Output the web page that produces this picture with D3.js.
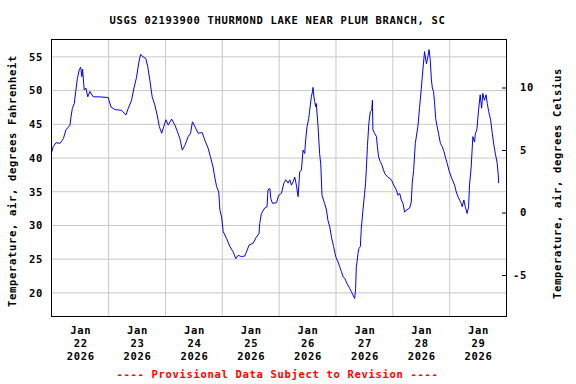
<!DOCTYPE html>
<html>
<head>
<meta charset="utf-8">
<script src="https://cdn.jsdelivr.net/npm/d3@7"></script>
<style>
  html, body { margin: 0; padding: 0; background: #fff; }
  svg text { font-family: "DejaVu Sans Mono", monospace; font-weight: bold; font-size: 10.5px; letter-spacing: 0.68px; }
</style>
</head>
<body>
<div id="chart"></div>
<script>
// hours since 2026-01-22 00:00
const hoursSinceStart = [0,0.8,2,3.7,5.1,6.2,7.9,8.3,8.9,9.7,10.3,11,11.8,12.4,12.9,13.2,13.9,14.6,15.4,16.3,17.7,19.8,24,25.2,26.9,29.7,31.5,32.5,33.9,34.9,36,36.9,37.7,38.8,39.9,40.7,41.6,42.6,43.7,44.7,45.6,46.6,47.5,48.4,49.4,50.8,52.2,53.3,54.3,55.3,56.4,57.8,58.8,59.6,60.6,62,63.7,64.8,66.2,67.2,68.3,69,69.8,70.7,71.2,71.9,72.6,74,75.4,76.8,77.9,78.9,80.3,81.7,82.4,83.5,85.2,86.6,87.7,88,88.7,90.1,91.1,91.5,92.3,92.7,93.4,95.1,96,97.2,98.2,99,100,100.7,101.4,102.1,102.8,103.5,104.2,104.9,105.6,106.3,107,107.4,108,108.7,109.1,109.8,110.3,110.5,110.9,111.2,111.7,111.9,112.6,113.3,113.8,114.3,115.4,116.2,116.8,117.6,118.3,119.2,120.1,121.1,121.8,122.5,123.2,123.9,124.9,126,126.7,127.4,128.1,128.5,128.8,129.2,129.5,129.9,130.5,130.9,131.6,132.3,132.7,133,133.5,134.1,134.7,135.3,135.6,135.8,136.5,137.3,137.7,138.2,138.9,139.6,140.8,142.1,143.6,144.6,145.7,146.4,147.1,147.8,148.5,149.2,149.9,151.3,152,152.4,153,153.7,154.8,155.5,156.2,156.9,157.6,158.4,159,159.5,160,160.5,160.9,161.4,161.8,162.3,162.8,163.5,164.3,165.1,165.8,166.5,167.2,167.9,168.9,170.3,171,171.7,172.4,173.1,173.5,174.2,174.8,175.6,176.2,176.6,177.3,178,178.7,179.1,179.7,180.4,181.1,181.7,182.2,182.9,183.6,184.1,184.7,185.5,186.2,186.9,187.6,188.3,188.8,188.9];

const tempF = [40.6,41.6,42.2,42.1,42.8,44.1,44.8,46.0,47.3,48.0,49.8,51.7,53.0,53.4,52.0,53.1,50.0,50.3,49.0,49.8,49.0,49.0,48.9,47.5,47.1,47.0,46.3,47.3,48.5,50.3,51.9,54.0,55.3,54.9,54.7,53.5,51.5,49.0,47.8,46.3,44.6,43.6,44.6,45.6,44.8,45.7,44.8,43.8,42.8,41.1,41.8,43.1,43.6,45.3,44.6,43.6,43.7,42.6,41.4,40.1,38.6,37.1,35.7,34.9,32.2,31.2,29.0,28.0,26.8,26.0,25.0,25.5,25.3,25.4,26.0,27.0,27.3,28.2,28.7,30.2,31.7,32.5,32.7,35.2,35.4,33.9,33.2,33.3,34.4,34.7,36.2,36.7,36.2,36.7,35.9,36.4,37.1,35.9,34.2,37.9,38.1,41.1,40.6,42.6,44.6,45.8,47.0,49.0,49.8,50.4,49.0,48.3,47.5,48.0,44.8,40.6,38.9,34.4,33.2,32.2,30.7,29.7,28.2,26.8,25.3,24.5,23.8,23.1,22.3,22.1,21.3,20.6,20.1,19.6,19.1,20.6,23.8,24.8,25.8,26.5,26.8,29.5,32.2,34.7,36.2,38.1,41.8,45.1,46.8,47.0,48.5,44.1,43.6,43.1,41.6,40.1,39.4,38.9,37.6,37.1,36.7,35.9,35.2,34.4,34.7,33.7,33.2,31.9,32.2,32.5,33.4,36.2,38.1,42.1,44.6,47.4,50.1,53.0,55.7,53.9,54.9,56.0,54.5,51.5,50.3,49.8,48.3,45.8,44.8,43.6,42.1,41.6,40.9,39.9,39.1,38.1,37.1,35.9,34.9,34.2,33.7,33.2,32.7,33.7,32.7,31.7,32.7,35.9,38.6,43.1,42.3,43.6,44.1,47.0,49.3,47.3,49.5,48.5,49.3,48.0,46.8,45.6,43.6,41.8,40.4,39.1,37.1,36.2];

const fTicks = [20, 25, 30, 35, 40, 45, 50, 55];
const cTicks = [-5, 0, 5, 10];
const dayLabels = ["22", "23", "24", "25", "26", "27", "28", "29"];

const titleText = "USGS 02193900 THURMOND LAKE NEAR PLUM BRANCH, SC";
const leftLabel = "Temperature, air, degrees Fahrenheit";
const rightLabel = "Temperature, air, degrees Celsius";
const footText = "---- Provisional Data Subject to Revision ----";

const W = 576, H = 384;
const plot = { left: 51, right: 506, top: 39, bottom: 316 };

const start = new Date(2026, 0, 22);
const end = new Date(2026, 0, 30);
const data = hoursSinceStart.map((h, i) => ({ t: new Date(+start + h * 3600e3), v: tempF[i] }));

const svg = d3.select("#chart").append("svg")
  .attr("width", W).attr("height", H);

const x = d3.scaleTime().domain([start, end]).range([plot.left + 0.3, plot.right]);
const y = d3.scaleLinear().domain([16.5, 57.5]).range([plot.bottom, plot.top + 0.5]);
const yC = d3.scaleLinear().domain([-8.28, 13.84]).range([plot.bottom, plot.top + 0.5]);

// grid
const midnights = d3.timeDay.range(d3.timeDay.offset(start, 1), end);
svg.append("g")
  .attr("transform", `translate(0,${plot.bottom})`)
  .call(d3.axisBottom(x).tickValues(midnights).tickSize(-(plot.bottom - plot.top)).tickFormat(""))
  .call(g => g.select(".domain").remove())
  .call(g => g.selectAll("line").attr("stroke", "#c8c8c8"));

svg.append("g")
  .attr("transform", `translate(${plot.left},0)`)
  .call(d3.axisLeft(y).tickValues(fTicks).tickSize(-(plot.right - plot.left)).tickFormat(""))
  .call(g => g.select(".domain").remove())
  .call(g => g.selectAll("line").attr("stroke", "#c8c8c8"));

// line
svg.append("path")
  .datum(data)
  .attr("fill", "none")
  .attr("stroke", "#0000ff")
  .attr("stroke-width", 1)
  .attr("d", d3.line().x(d => x(d.t)).y(d => y(d.v)));

// frame
svg.append("rect")
  .attr("x", plot.left + 0.5).attr("y", plot.top + 0.5)
  .attr("width", plot.right - plot.left).attr("height", plot.bottom - plot.top)
  .attr("fill", "none").attr("stroke", "#000");

// left tick labels
svg.append("g")
  .attr("transform", `translate(${plot.left},0)`)
  .call(d3.axisLeft(y).tickValues(fTicks).tickSize(0).tickPadding(8))
  .call(g => g.select(".domain").remove())
  .call(g => g.selectAll("text").attr("fill", "#000").attr("dy", "0.36em"))
  .attr("font-size", null).attr("font-family", null);

// right axis: inward ticks, labels left-aligned with hanging minus
svg.append("g")
  .attr("transform", `translate(${plot.right},0)`)
  .call(d3.axisLeft(yC).tickValues(cTicks).tickSize(4).tickFormat(""))
  .call(g => g.select(".domain").remove())
  .call(g => g.selectAll("line").attr("stroke", "#000"));

svg.append("g").selectAll("text")
  .data(cTicks)
  .join("text")
  .attr("x", d => d < 0 ? 513 : 520)
  .attr("y", d => yC(d))
  .attr("dy", "0.36em")
  .text(d => d < 0 ? "-" + Math.abs(d) : String(d));

// x labels
const noons = [start, ...midnights].map(d => d3.timeHour.offset(d, 12));
const xLab = svg.append("g")
  .attr("transform", `translate(0,${plot.bottom})`)
  .call(d3.axisBottom(x).tickValues(noons).tickSize(0).tickFormat(""))
  .attr("font-size", null).attr("font-family", null)
  .call(g => g.select(".domain").remove());

xLab.selectAll(".tick").each(function (d, i) {
  const t = d3.select(this).select("text")
    .attr("y", 0).attr("dy", null)
    .attr("fill", "#000");
  ["Jan", dayLabels[i], "2026"].forEach((s, k) => {
    t.append("tspan").attr("x", 0.5).attr("y", 18 + k * 12.8).text(s);
  });
});

// titles
svg.append("text")
  .attr("x", 277.5).attr("y", 24)
  .attr("text-anchor", "middle")
  .text(titleText);

svg.append("text")
  .attr("transform", "translate(16,181) rotate(-90)")
  .attr("text-anchor", "middle")
  .text(leftLabel);

svg.append("text")
  .attr("transform", "translate(561,183.5) rotate(-90)")
  .attr("text-anchor", "middle")
  .text(rightLabel);

svg.append("text")
  .attr("x", 277.5).attr("y", 378)
  .attr("text-anchor", "middle")
  .attr("fill", "#ff0000")
  .text(footText);
</script>
</body>
</html>
